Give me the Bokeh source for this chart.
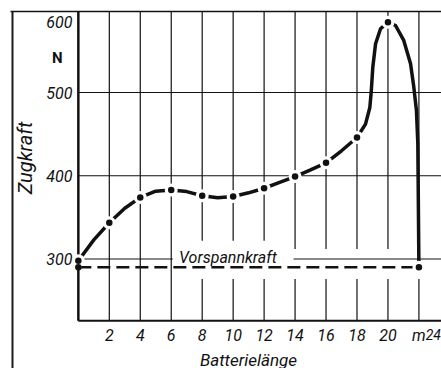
from bokeh.plotting import figure
from bokeh.models import Range1d, FixedTicker
from bokeh.core.properties import value
from bokeh.embed import file_html
from bokeh.resources import INLINE

# ---------------- data ----------------
laenge_m = [0, 1, 2, 3, 4, 5, 6, 7, 8, 9, 10, 11, 12, 13, 14, 15, 16, 17, 18,
            18.55, 18.83, 18.92, 19.02, 19.2, 19.52, 20, 20.49, 21.02, 21.46,
            21.67, 21.84, 21.93, 22]
zugkraft_N = [298, 323, 343.5, 361, 374, 381.5, 383, 381, 376, 373.5, 375,
              379.5, 385, 392, 399, 407, 415.5, 430, 446,
              462, 482, 501, 530, 558.5, 576.5, 584.5, 580.5, 562.5, 534.5,
              506.5, 478.5, 438.5, 290]
messpunkte_m = [0, 2, 4, 6, 8, 10, 12, 14, 16, 18, 20, 22]
vorspann_x = [0, 22]
vorspannkraft_N = [290, 290]

x_ticks = [2, 4, 6, 8, 10, 12, 14, 16, 18, 20, 22, 24]
x_tick_labels = {22: "m"}
x_edge_tick = 24
y_ticks = [300, 400, 500]
y_top_label = "600"
y_top_value = 585
unit_label = "N"
y_title = "Zugkraft"
x_title = "Batterielänge"
line_label = "Vorspannkraft"

FONT = "Roboto"
INK = "#111111"

X0, X1 = -5.029, 23.459      # visible x-range (m)
Y0, Y1 = 168.5, 610.5        # visible y-range (N)
Y_BASE, Y_TOP = 226, 597.3   # chart box bottom / top
X_OUTER, X_TOPLINE = -4.254, -4.383

mx = [x for x in laenge_m if x in messpunkte_m]
my = [y for x, y in zip(laenge_m, zugkraft_N) if x in messpunkte_m]

p = figure(width=441, height=368, title=None,
           x_range=Range1d(X0, X1), y_range=Range1d(Y0, Y1),
           output_backend="svg", toolbar_location=None,
           min_border_left=0, min_border_right=0,
           min_border_top=0, min_border_bottom=0)
p.outline_line_color = None
p.background_fill_color = "white"
p.border_fill_color = "white"
p.grid.visible = False

# axes drawn at fixed data locations (lines drawn separately below)
p.xaxis.fixed_location = Y_BASE
p.xaxis.bounds = (0, 22)
p.yaxis.fixed_location = 0
p.yaxis.bounds = (245, Y_TOP)
p.xaxis.ticker = FixedTicker(ticks=x_ticks)
p.xaxis.major_label_overrides = x_tick_labels
p.yaxis.ticker = FixedTicker(ticks=y_ticks)
for ax in (p.xaxis, p.yaxis):
    ax.axis_line_color = None
    ax.major_tick_line_color = None
    ax.minor_tick_line_color = None
    ax.major_tick_out = 0
    ax.major_tick_in = 0
    ax.minor_tick_out = 0
    ax.major_label_text_font = FONT
    ax.major_label_text_font_style = "italic"
    ax.major_label_text_font_size = "16px"
    ax.major_label_text_color = INK
    ax.axis_label_text_font = FONT
    ax.axis_label_text_font_style = "italic"
    ax.axis_label_text_color = INK
p.xaxis.major_label_standoff = 5
p.yaxis.major_label_standoff = 6
p.yaxis.axis_label = y_title
p.yaxis.axis_label_text_font_size = "20px"
p.yaxis.axis_label_standoff = 6
p.xaxis.axis_label = x_title
p.xaxis.axis_label_text_font_size = "17px"
p.xaxis.axis_label_standoff = 2

# outer frame of the figure
p.segment(x0=X_OUTER, y0=Y0, x1=X_OUTER, y1=Y_TOP, line_color="#1a1a1a", line_width=2)
p.segment(x0=X_TOPLINE, y0=Y_TOP, x1=X1, y1=Y_TOP, line_color=INK, line_width=1.5)

# grid lines
gx = [t for t in x_ticks if t < X1]
p.segment(x0=gx, y0=Y_BASE, x1=gx, y1=Y_TOP, line_color=INK, line_width=1.2)
p.segment(x0=0, y0=y_ticks[1:], x1=X1, y1=y_ticks[1:], line_color=INK, line_width=1.2)

# white halo around the Vorspannkraft line (interrupts the grid)
p.quad(left=7, right=24, bottom=276, top=312, fill_color="white", line_color=None)
p.segment(x0=0, y0=y_ticks[0], x1=X1, y1=y_ticks[0], line_color=INK, line_width=1.2)
# white box behind the label
p.quad(left=6.1, right=13.9, bottom=288, top=322, fill_color="white", line_color=None)
p.text(x=[9.66], y=[302], text=[line_label], text_font=value(FONT),
       text_font_style="italic", text_font_size="16px", text_color=INK,
       text_align="center", text_baseline="alphabetic")

# axis lines of the chart box
p.segment(x0=0, y0=Y_BASE, x1=0, y1=Y_TOP, line_color=INK, line_width=2.5)
p.segment(x0=0, y0=Y_BASE, x1=X1, y1=Y_BASE, line_color=INK, line_width=2)

# Vorspannkraft dashed line
p.line(vorspann_x, vorspannkraft_N, line_color=INK, line_width=2.5, line_dash="13 6")

# traction curve
p.line(laenge_m, zugkraft_N, line_color=INK, line_width=3.5, line_join="round",
       line_cap="round")
p.scatter(mx, my, size=13, fill_color="white", line_color=None)
p.scatter(mx, my, size=6.5, fill_color=INK, line_color=None)
p.scatter(vorspann_x[:1], vorspannkraft_N[:1], size=6.5, fill_color=INK, line_color=None)

# top value and unit on the y axis
p.text(x=[0], y=[y_top_value], text=[y_top_label], x_offset=-6,
       text_font=value(FONT), text_font_style="italic", text_font_size="16px",
       text_color=INK, text_align="right", text_baseline="middle")
p.text(x=[-1.357], y=[541], text=[unit_label],
       text_font=value(FONT), text_font_style="bold", text_font_size="15px",
       text_color=INK, text_align="center", text_baseline="middle")
# last tick label, pulled in so that it stays inside the picture
p.text(x=[x_edge_tick], y=[208.8], text=[str(x_edge_tick)], x_offset=-16.5,
       text_font=value(FONT), text_font_style="italic", text_font_size="14px",
       text_color=INK, text_align="center", text_baseline="middle")

open("out.html", "w").write(file_html(p, INLINE))
